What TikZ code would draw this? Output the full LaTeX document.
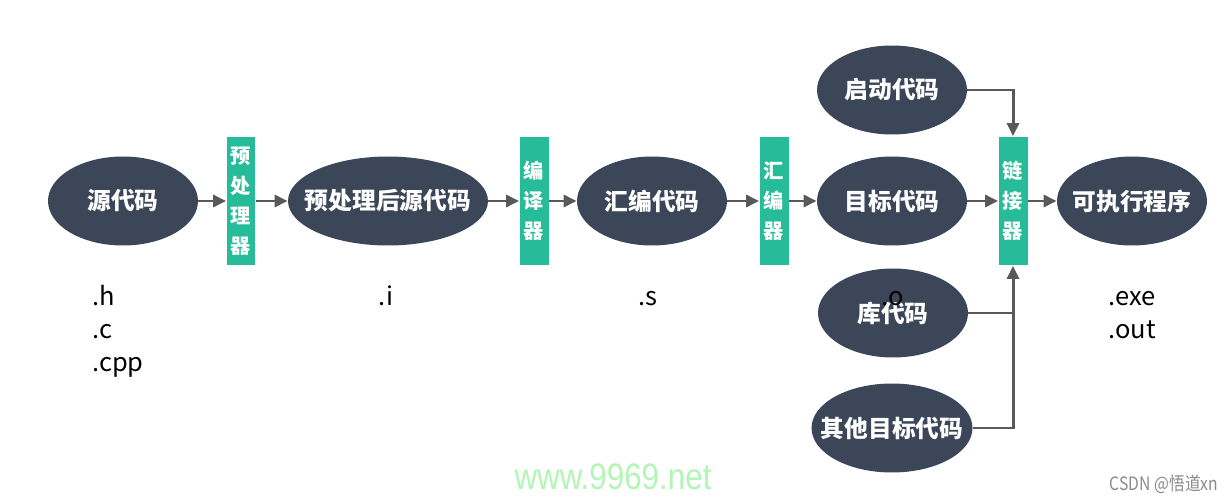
\documentclass[tikz,border=0pt]{standalone}
\usepackage{fontspec}
\setmainfont{Noto Sans CJK SC}
\newfontfamily\sitefont{Liberation Sans}
\usepackage{tikz}
\usetikzlibrary{positioning}
\usetikzlibrary{shapes.geometric}
\usetikzlibrary{arrows.meta}
\definecolor{blobfill}{HTML}{3C4659}
\definecolor{toolfill}{HTML}{26BC9A}
\definecolor{arrowgray}{HTML}{595959}
\definecolor{sitegreen}{HTML}{B3F5B6}
\definecolor{markgray}{HTML}{8A8A8A}
\tikzset{blob/.style={ellipse, fill=blobfill, text=white, inner xsep=-0.3cm, inner ysep=0pt, minimum width=3cm, minimum height=1.78cm, font=\bfseries\fontsize{13.5}{16}\selectfont}}
\tikzset{tool/.style={rectangle, fill=toolfill, text=white, inner sep=0pt, minimum width=0.58cm, minimum height=2.58cm, align=center, font=\bfseries\fontsize{11.5}{17}\selectfont}}
\tikzset{conn/.style={draw=arrowgray, line width=1.7pt}}
\tikzset{flow/.style={conn, -{Triangle[length=7.4pt,width=6.8pt]}}}
\tikzset{ext/.style={align=left, inner sep=0pt, anchor=north west, font=\fontsize{14.5}{18.7}\selectfont}}

\begin{document}
\begin{tikzpicture}[x=0.02cm, y=-0.02cm]
\useasboundingbox (0,0) rectangle (1231,500);
\node[blob] (src) at (123,201) {源代码};
\node[tool] (pre) at (241,201) {预\\处\\理\\器};
\node[blob, minimum width=4cm] (prep) at (388,201) {预处理后源代码};
\node[tool] (cc) at (534,201) {编\\译\\器};
\node[blob] (asm) at (652,201) {汇编代码};
\node[tool] (as) at (774,201) {汇\\编\\器};
\node[blob] (obj) at (892,201) {目标代码};
\node[blob] (boot) at (892,90) {启动代码};
\node[blob] (lib) at (893,313) {库代码};
\node[blob, minimum width=3.22cm] (other) at (892,428) {其他目标代码};
\node[tool] (ld) at (1013,201) {链\\接\\器};
\node[blob] (exe) at (1132,201) {可执行程序};

\draw[flow] (src.east) -- (pre.west);
\draw[flow] (pre.east) -- (prep.west);
\draw[flow] (prep.east) -- (cc.west);
\draw[flow] (cc.east) -- (asm.west);
\draw[flow] (asm.east) -- (as.west);
\draw[flow] (as.east) -- (obj.west);
\draw[flow] (obj.east) -- (ld.west);
\draw[flow] (ld.east) -- (exe.west);
\draw[flow] (boot.east) -| (ld.north);
\draw[conn] (lib.east) -- (lib.east -| ld.south);
\draw[flow] (other.east) -| (ld.south);

\node[ext] (srcext) at (92,285) {.h\\.c\\.cpp};
\node[ext, anchor=base] (prepext) at (386,305) {.i};
\node[ext, anchor=base] (asmext) at (648,305) {.s};
\node[ext, anchor=base] (objext) at (893,305) {.o};
\node[ext] (exeext) at (1108,291) {.exe\\.out};

\node[text=sitegreen, xscale=0.85, font=\sitefont\fontsize{21}{24}\selectfont] (site) at (613,477) {www.9969.net};
\node[text=markgray, xscale=0.85, font=\fontsize{10.5}{12}\selectfont] (mark) at (1164,484) {CSDN @悟道xn};
\end{tikzpicture}
\end{document}
